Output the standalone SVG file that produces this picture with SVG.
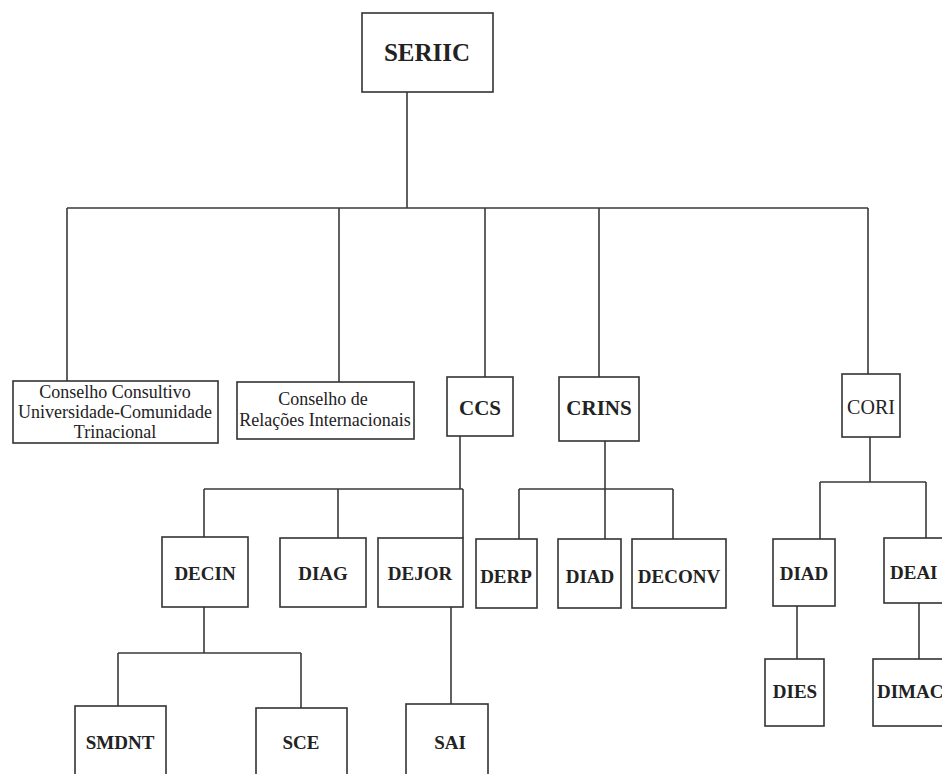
<svg xmlns="http://www.w3.org/2000/svg" width="942" height="774" viewBox="0 0 942 774">
<style>
rect{fill:#fff;stroke:#333;stroke-width:1.6}
#connectors path{fill:none;stroke:#3a3a3a;stroke-width:1.6}
text{font-family:"Liberation Serif","Times New Roman",serif;fill:#222;text-anchor:middle}
.b{font-weight:bold;font-size:19px}
.n{font-size:18px}
</style>
<rect x="0" y="0" width="942" height="774" style="fill:#fff;stroke:none"/>
<g id="connectors">
<path d="M407 92V208M67 208H868M67 208V381M339 208V382M485 208V377M599 208V377M868 208V374"/>
<path d="M460 436V489M204 489H463M463 489V538M204 489V537M338 489V538"/>
<path d="M605 441V539M519 489H673M519 489V539M673 489V539"/>
<path d="M870 437V482M820 482H926M820 482V539M926 482V538"/>
<path d="M797 606V659M919 603V659"/>
<path d="M204 607V653M118 653H301M118 653V706M301 653V708"/>
<path d="M451 607V704"/>
</g>
<g id="seriic"><rect x="362" y="13" width="131" height="79"/><text x="427" y="61" class="b" style="font-size:25px">SERIIC</text></g>
<g id="conselho-consultivo"><rect x="13" y="381" width="205" height="62"/><text class="n" x="115" y="398">Conselho Consultivo</text><text class="n" x="115" y="418">Universidade-Comunidade</text><text class="n" x="115" y="438">Trinacional</text></g>
<g id="conselho-relacoes"><rect x="237" y="382" width="177" height="57"/><text class="n" x="323" y="405">Conselho de</text><text class="n" x="325" y="426">Relações Internacionais</text></g>
<g id="ccs"><rect x="447" y="377" width="66" height="59"/><text class="b" x="480" y="415" style="font-size:21px">CCS</text></g>
<g id="crins"><rect x="559" y="377" width="80" height="64"/><text class="b" x="599" y="415" style="font-size:21px">CRINS</text></g>
<g id="cori"><rect x="842" y="374" width="58" height="63"/><text x="871" y="414" style="font-size:20px">CORI</text></g>
<g id="decin"><rect x="162" y="537" width="86" height="70"/><text class="b" x="205" y="580">DECIN</text></g>
<g id="diag"><rect x="280" y="538" width="86" height="69"/><text class="b" x="323" y="580">DIAG</text></g>
<g id="dejor"><rect x="378" y="538" width="85" height="69"/><text class="b" x="420" y="580">DEJOR</text></g>
<g id="derp"><rect x="476" y="539" width="61" height="69"/><text class="b" x="506" y="583">DERP</text></g>
<g id="diad-crins"><rect x="558" y="539" width="63" height="69"/><text class="b" x="590" y="583">DIAD</text></g>
<g id="deconv"><rect x="632" y="539" width="94" height="69"/><text class="b" x="679" y="583">DECONV</text></g>
<g id="diad-cori"><rect x="773" y="539" width="62" height="67"/><text class="b" x="804" y="580">DIAD</text></g>
<g id="deai"><rect x="884" y="538" width="70" height="65"/><text class="b" x="890" y="579" style="text-anchor:start">DEAI</text></g>
<g id="dies"><rect x="765" y="659" width="59" height="67"/><text class="b" x="795" y="698">DIES</text></g>
<g id="dimac"><rect x="873" y="659" width="80" height="67"/><text class="b" x="877" y="698" style="text-anchor:start">DIMAC</text></g>
<g id="smdnt"><rect x="75" y="706" width="91" height="80"/><text class="b" x="120" y="749">SMDNT</text></g>
<g id="sce"><rect x="256" y="708" width="91" height="80"/><text class="b" x="301" y="749">SCE</text></g>
<g id="sai"><rect x="406" y="704" width="82" height="80"/><text class="b" x="450" y="749">SAI</text></g>
</svg>
